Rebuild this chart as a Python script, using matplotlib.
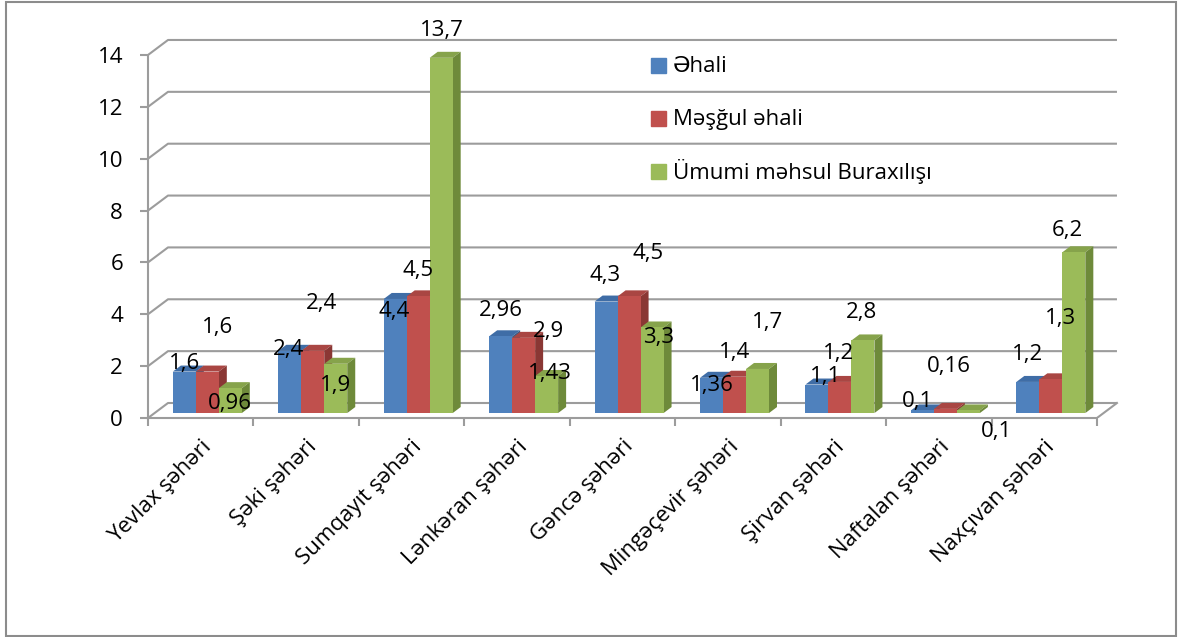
import matplotlib
matplotlib.use("Agg")
import matplotlib.pyplot as plt
from matplotlib.patches import Polygon, Rectangle

plt.rcParams['font.family'] = ['Open Sans', 'DejaVu Sans']

cities = ["Yevlax şəhəri", "Şəki şəhəri", "Sumqayıt şəhəri", "Lənkəran şəhəri",
          "Gəncə şəhəri", "Mingəçevir şəhəri", "Şirvan şəhəri", "Naftalan şəhəri",
          "Naxçıvan şəhəri"]
series = ["Əhali", "Məşğul əhali", "Ümumi məhsul Buraxılışı"]
ehali = [1.6, 2.4, 4.4, 2.96, 4.3, 1.36, 1.1, 0.1, 1.2]
meshgul = [1.6, 2.4, 4.5, 2.9, 4.5, 1.4, 1.2, 0.16, 1.3]
buraxilis = [0.96, 1.9, 13.7, 1.43, 3.3, 1.7, 2.8, 0.1, 6.2]
yticks = [0, 2, 4, 6, 8, 10, 12, 14]

# where Excel dropped each data label, offset from the bar top in pixels
lab_off = [
    [(0, -8), (-1, -1), (-1, 13), (0, -26), (-1, -26), (0, 8), (9, -8), (-5, -9), (0, -27)],
    [(10, -44), (9, -47), (0, -26), (25, -6), (19, -43), (0, -24), (-1, -28), (3, -42), (10, -61)],
    [(0, 15), (0, 22), (1, -27), (3, -2), (6, 10), (10, -46), (-1, -28), (28, 21), (-6, -22)],
]

front = ["#4F81BD", "#C0504D", "#9BBB59"]
top_c = ["#3F6DA6", "#A94643", "#86A34B"]
side_c = ["#375B87", "#8A3734", "#6E8A3A"]
grid_c = "#9C9C9C"
fs = 16

W, H = 1181, 637
fig = plt.figure(figsize=(W / 100, H / 100), dpi=100)

# pixel geometry of the plot
x0, x1 = 148, 1140
y_floor, y_top = 418, 20
ppx = 105.44   # px per category
ppy = 25.93    # px per unit
ax = fig.add_axes([x0 / W, 1 - y_floor / H, (x1 - x0) / W, (y_floor - y_top) / H])
ax.set_xlim(-0.5, -0.5 + (x1 - x0) / ppx)
ax.set_ylim(0, (y_floor - y_top) / ppy)

Dx, Dy = 20 / ppx, 15 / ppy      # wall depth
f = 0.33                          # bars sit this far into the depth
bdx, bdy = 8 / ppx, 6 / ppy       # bar depth
w = 0.218
n = len(cities)

# walls / gridlines
for v in yticks:
    ax.plot([-0.5, -0.5 + Dx, n - 0.5 + Dx], [v, v + Dy, v + Dy],
            color=grid_c, lw=1.5, zorder=1, solid_capstyle='butt')
ax.plot([n - 0.5, n - 0.5 + Dx], [0, Dy], color=grid_c, lw=1.5, zorder=1)

for k, vals in enumerate([ehali, meshgul, buraxilis]):
    z = 3 + k
    xs = [i + (k - 1) * w - w / 2 + f * Dx for i in range(n)]
    base = f * Dy
    ax.bar(xs, vals, width=w, bottom=base, align='edge', color=front[k],
           linewidth=0, zorder=z + 0.5)
    for i, v in enumerate(vals):
        xl, t = xs[i], base + v
        ax.add_patch(Polygon([(xl, t), (xl + w, t), (xl + w + bdx, t + bdy), (xl + bdx, t + bdy)],
                             closed=True, color=top_c[k], lw=0, zorder=z))
        ax.add_patch(Polygon([(xl + w, base), (xl + w, t), (xl + w + bdx, t + bdy),
                              (xl + w + bdx, base + bdy)], closed=True, color=side_c[k], lw=0, zorder=z))
        dx, dy = lab_off[k][i]
        ax.annotate(("%g" % v).replace('.', ','), xy=(xl + w / 2, t), xytext=(dx * 0.72, -dy * 0.72),
                    textcoords='offset points', ha='center', va='center', fontsize=fs,
                    zorder=10, annotation_clip=False)

for s in ['top', 'right']:
    ax.spines[s].set_visible(False)
for s in ['left', 'bottom']:
    ax.spines[s].set_color(grid_c)
    ax.spines[s].set_linewidth(1.5)
ax.spines['left'].set_bounds(0, 14)
ax.spines['bottom'].set_bounds(-0.5, n - 0.5)
ax.set_yticks(yticks)
ax.set_yticklabels([str(t) for t in yticks])
ax.tick_params(axis='y', length=6, width=1.5, color=grid_c, pad=12, labelsize=fs)
ax.set_xticks([i - 0.5 for i in range(n + 1)])
ax.set_xticklabels([])
ax.tick_params(axis='x', which='major', length=6, width=1.5, color=grid_c)
ax.set_xticks(range(n), minor=True)
ax.set_xticklabels(cities, minor=True, rotation=45, ha='right', rotation_mode='anchor', fontsize=fs)
ax.tick_params(axis='x', which='minor', length=0, pad=13)
ax.patch.set_alpha(0)

# legend
for k, name in enumerate(series):
    cy = [66, 119, 172][k]
    fig.add_artist(Rectangle((651 / W, 1 - (cy + 7) / H), 15 / W, 15 / H, color=front[k],
                             transform=fig.transFigure))
    fig.text(673 / W, 1 - cy / H, name, fontsize=fs, va='center', ha='left')

# outer frame
fig.add_artist(Rectangle((6 / W, 1 / H), 1170 / W, 634 / H, fill=False, ec="#8C8C8C", lw=1.5,
                         transform=fig.transFigure))

fig.savefig("out.png", dpi=100)
